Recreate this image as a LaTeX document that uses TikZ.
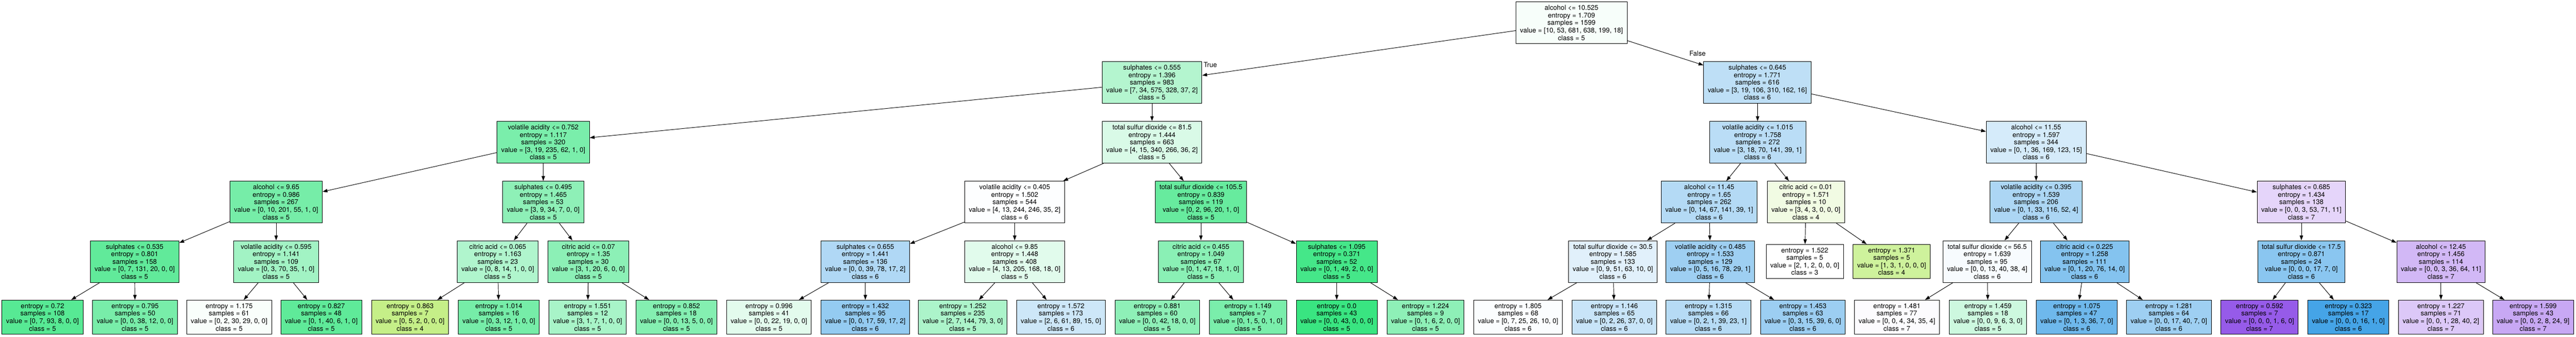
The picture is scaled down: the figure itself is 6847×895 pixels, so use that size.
\documentclass[tikz,border=0pt]{standalone}
\usepackage{fontspec}
\setmainfont{TeX Gyre Heros}
\usetikzlibrary{arrows.meta}

\definecolor{cfour}{RGB}{158,229,57}
\definecolor{cfive}{RGB}{57,229,129}
\definecolor{csix}{RGB}{57,158,229}
\definecolor{cseven}{RGB}{129,57,229}

\tikzset{
  split/.style={draw, line width=1.3pt, rectangle, align=center,
    font=\fontsize{18}{20}\selectfont, inner xsep=11pt, inner ysep=0pt,
    minimum height=111pt},
  leaf/.style={split, minimum height=91pt},
  link/.style={line width=1.3pt, -{Triangle[length=13pt,width=9pt]}}
}

\begin{document}
\begin{tikzpicture}[x=1pt, y=-1pt]
			\fill[white] (0,0) rectangle (6847,895);
			\useasboundingbox (0,0) rectangle (6847,895);
			
			% rank 0 and 1
			\node[split, fill=cfive!4] (root) at (4177,60.5) {alcohol <= 10.525\\entropy = 1.709\\samples = 1599\\value = [10, 53, 681, 638, 199, 18]\\class = 5};
			\node[split, fill=cfive!38] (sa) at (3062,219) {sulphates <= 0.555\\entropy = 1.396\\samples = 983\\value = [7, 34, 575, 328, 37, 2]\\class = 5};
			\node[split, fill=csix!33] (sb) at (4671,219) {sulphates <= 0.645\\entropy = 1.771\\samples = 616\\value = [3, 19, 106, 310, 162, 16]\\class = 6};
			
			% rank 2
			\node[split, fill=cfive!67] (va) at (1444,378) {volatile acidity <= 0.752\\entropy = 1.117\\samples = 320\\value = [3, 19, 235, 62, 1, 0]\\class = 5};
			\node[split, fill=cfive!19] (ta) at (3062,378) {total sulfur dioxide <= 81.5\\entropy = 1.444\\samples = 663\\value = [4, 15, 340, 266, 36, 2]\\class = 5};
			\node[split, fill=csix!35] (vb) at (4672,378) {volatile acidity <= 1.015\\entropy = 1.758\\samples = 272\\value = [3, 18, 70, 141, 39, 1]\\class = 6};
			\node[split, fill=csix!21] (ab) at (5412,378) {alcohol <= 11.55\\entropy = 1.597\\samples = 344\\value = [0, 1, 36, 169, 123, 15]\\class = 6};
			
			% rank 3
			\node[split, fill=cfive!69] (aa) at (734,537) {alcohol <= 9.65\\entropy = 0.986\\samples = 267\\value = [0, 10, 201, 55, 1, 0]\\class = 5};
			\node[split, fill=cfive!57] (sc) at (1444,537) {sulphates <= 0.495\\entropy = 1.465\\samples = 53\\value = [3, 9, 34, 7, 0, 0]\\class = 5};
			\node[split, fill=csix!1] (vc) at (2697,537) {volatile acidity <= 0.405\\entropy = 1.502\\samples = 544\\value = [4, 13, 244, 246, 35, 2]\\class = 6};
			\node[split, fill=cfive!77] (tb) at (3192,537) {total sulfur dioxide <= 105.5\\entropy = 0.839\\samples = 119\\value = [0, 2, 96, 20, 1, 0]\\class = 5};
			\node[split, fill=csix!38] (ac) at (4543,537) {alcohol <= 11.45\\entropy = 1.65\\samples = 262\\value = [0, 14, 67, 141, 39, 1]\\class = 6};
			\node[split, fill=cfour!14] (ca) at (4800,537) {citric acid <= 0.01\\entropy = 1.571\\samples = 10\\value = [3, 4, 3, 0, 0, 0]\\class = 4};
			\node[split, fill=csix!42] (vd) at (5412,537) {volatile acidity <= 0.395\\entropy = 1.539\\samples = 206\\value = [0, 1, 33, 116, 52, 4]\\class = 6};
			\node[split, fill=cseven!21] (sd) at (6117,537) {sulphates <= 0.685\\entropy = 1.434\\samples = 138\\value = [0, 0, 3, 53, 71, 11]\\class = 7};
			
			% rank 4
			\node[split, fill=cfive!80] (se) at (358,695) {sulphates <= 0.535\\entropy = 0.801\\samples = 158\\value = [0, 7, 131, 20, 0, 0]\\class = 5};
			\node[split, fill=cfive!47] (ve) at (734,695) {volatile acidity <= 0.595\\entropy = 1.141\\samples = 109\\value = [0, 3, 70, 35, 1, 0]\\class = 5};
			\node[split, fill=cfive!40] (cb) at (1323,695) {citric acid <= 0.065\\entropy = 1.163\\samples = 23\\value = [0, 8, 14, 1, 0, 0]\\class = 5};
			\node[split, fill=cfive!58] (cc) at (1564,695) {citric acid <= 0.07\\entropy = 1.35\\samples = 30\\value = [3, 1, 20, 6, 0, 0]\\class = 5};
			\node[split, fill=csix!40] (sf) at (2300,695) {sulphates <= 0.655\\entropy = 1.441\\samples = 136\\value = [0, 0, 39, 78, 17, 2]\\class = 6};
			\node[split, fill=cfive!15] (ad) at (2697,695) {alcohol <= 9.85\\entropy = 1.448\\samples = 408\\value = [4, 13, 205, 168, 18, 0]\\class = 5};
			\node[split, fill=cfive!59] (cd) at (3192,695) {citric acid <= 0.455\\entropy = 1.049\\samples = 67\\value = [0, 1, 47, 18, 1, 0]\\class = 5};
			\node[split, fill=cfive!94] (sg) at (3553,695) {sulphates <= 1.095\\entropy = 0.371\\samples = 52\\value = [0, 1, 49, 2, 0, 0]\\class = 5};
			\node[split, fill=csix!15] (tc) at (4287,695) {total sulfur dioxide <= 30.5\\entropy = 1.585\\samples = 133\\value = [0, 9, 51, 63, 10, 0]\\class = 6};
			\node[split, fill=csix!49] (vf) at (4546,695) {volatile acidity <= 0.485\\entropy = 1.533\\samples = 129\\value = [0, 5, 16, 78, 29, 1]\\class = 6};
			\node[leaf, fill=white] (m1) at (4797,695) {entropy = 1.522\\samples = 5\\value = [2, 1, 2, 0, 0, 0]\\class = 3};
			\node[leaf, fill=cfour!50] (m2) at (5028,695) {entropy = 1.371\\samples = 5\\value = [1, 3, 1, 0, 0, 0]\\class = 4};
			\node[split, fill=csix!4] (td) at (5282,695) {total sulfur dioxide <= 56.5\\entropy = 1.639\\samples = 95\\value = [0, 0, 13, 40, 38, 4]\\class = 6};
			\node[split, fill=csix!62] (ce) at (5541,695) {citric acid <= 0.225\\entropy = 1.258\\samples = 111\\value = [0, 1, 20, 76, 14, 0]\\class = 6};
			\node[split, fill=csix!59] (te) at (6117,695) {total sulfur dioxide <= 17.5\\entropy = 0.871\\samples = 24\\value = [0, 0, 0, 17, 7, 0]\\class = 6};
			\node[split, fill=cseven!36] (ae) at (6488,695) {alcohol <= 12.45\\entropy = 1.456\\samples = 114\\value = [0, 0, 3, 36, 64, 11]\\class = 7};
			
			% rank 5, leaves
			\node[leaf, fill=cfive!85] (l1) at (113,843) {entropy = 0.72\\samples = 108\\value = [0, 7, 93, 8, 0, 0]\\class = 5};
			\node[leaf, fill=cfive!68] (l2) at (359,843) {entropy = 0.795\\samples = 50\\value = [0, 0, 38, 12, 0, 0]\\class = 5};
			\node[leaf, fill=cfive!3] (l3) at (609,843) {entropy = 1.175\\samples = 61\\value = [0, 2, 30, 29, 0, 0]\\class = 5};
			\node[leaf, fill=cfive!81] (l4) at (854,843) {entropy = 0.827\\samples = 48\\value = [0, 1, 40, 6, 1, 0]\\class = 5};
			\node[leaf, fill=cfour!60] (l5) at (1090,843) {entropy = 0.863\\samples = 7\\value = [0, 5, 2, 0, 0, 0]\\class = 4};
			\node[leaf, fill=cfive!69] (l6) at (1326,843) {entropy = 1.014\\samples = 16\\value = [0, 3, 12, 1, 0, 0]\\class = 5};
			\node[leaf, fill=cfive!44] (l7) at (1562,843) {entropy = 1.551\\samples = 12\\value = [3, 1, 7, 1, 0, 0]\\class = 5};
			\node[leaf, fill=cfive!62] (l8) at (1798,843) {entropy = 0.852\\samples = 18\\value = [0, 0, 13, 5, 0, 0]\\class = 5};
			\node[leaf, fill=cfive!14] (l9) at (2044,843) {entropy = 0.996\\samples = 41\\value = [0, 0, 22, 19, 0, 0]\\class = 5};
			\node[leaf, fill=csix!54] (l10) at (2300,843) {entropy = 1.432\\samples = 95\\value = [0, 0, 17, 59, 17, 2]\\class = 6};
			\node[leaf, fill=cfive!42] (l11) at (2559,843) {entropy = 1.252\\samples = 235\\value = [2, 7, 144, 79, 3, 0]\\class = 5};
			\node[leaf, fill=csix!25] (l12) at (2820,843) {entropy = 1.572\\samples = 173\\value = [2, 6, 61, 89, 15, 0]\\class = 6};
			\node[leaf, fill=cfive!57] (l13) at (3076,843) {entropy = 0.881\\samples = 60\\value = [0, 0, 42, 18, 0, 0]\\class = 5};
			\node[leaf, fill=cfive!67] (l14) at (3317,843) {entropy = 1.149\\samples = 7\\value = [0, 1, 5, 0, 1, 0]\\class = 5};
			\node[leaf, fill=cfive] (l15) at (3553,843) {entropy = 0.0\\samples = 43\\value = [0, 0, 43, 0, 0, 0]\\class = 5};
			\node[leaf, fill=cfive!57] (l16) at (3789,843) {entropy = 1.224\\samples = 9\\value = [0, 1, 6, 2, 0, 0]\\class = 5};
			\node[leaf, fill=csix!2] (l17) at (4035,843) {entropy = 1.805\\samples = 68\\value = [0, 7, 25, 26, 10, 0]\\class = 6};
			\node[leaf, fill=csix!28] (l18) at (4291,843) {entropy = 1.146\\samples = 65\\value = [0, 2, 26, 37, 0, 0]\\class = 6};
			\node[leaf, fill=csix!37] (l19) at (4541,843) {entropy = 1.315\\samples = 66\\value = [0, 2, 1, 39, 23, 1]\\class = 6};
			\node[leaf, fill=csix!50] (l20) at (4792,843) {entropy = 1.453\\samples = 63\\value = [0, 3, 15, 39, 6, 0]\\class = 6};
			\node[leaf, fill=cseven!2] (l21) at (5042,843) {entropy = 1.481\\samples = 77\\value = [0, 0, 4, 34, 35, 4]\\class = 7};
			\node[leaf, fill=cfive!25] (l22) at (5284,843) {entropy = 1.459\\samples = 18\\value = [0, 0, 9, 6, 3, 0]\\class = 5};
			\node[leaf, fill=csix!73] (l23) at (5520,843) {entropy = 1.075\\samples = 47\\value = [0, 1, 3, 36, 7, 0]\\class = 6};
			\node[leaf, fill=csix!49] (l24) at (5765,843) {entropy = 1.281\\samples = 64\\value = [0, 0, 17, 40, 7, 0]\\class = 6};
			\node[leaf, fill=cseven!83] (l25) at (6006,843) {entropy = 0.592\\samples = 7\\value = [0, 0, 0, 1, 6, 0]\\class = 7};
			\node[leaf, fill=csix!94] (l26) at (6242,843) {entropy = 0.323\\samples = 17\\value = [0, 0, 0, 16, 1, 0]\\class = 6};
			\node[leaf, fill=cseven!28] (l27) at (6488,843) {entropy = 1.227\\samples = 71\\value = [0, 0, 1, 28, 40, 2]\\class = 7};
			\node[leaf, fill=cseven!44] (l28) at (6733,843) {entropy = 1.599\\samples = 43\\value = [0, 0, 2, 8, 24, 9]\\class = 7};
			
			% connectors
			\draw[link] (root) -- (sa);
			\draw[link] (root) -- (sb);
			\draw[link] (sa) -- (va);
			\draw[link] (sa) -- (ta);
			\draw[link] (sb) -- (vb);
			\draw[link] (sb) -- (ab);
			\draw[link] (va) -- (aa);
			\draw[link] (va) -- (sc);
			\draw[link] (ta) -- (vc);
			\draw[link] (ta) -- (tb);
			\draw[link] (vb) -- (ac);
			\draw[link] (vb) -- (ca);
			\draw[link] (ab) -- (vd);
			\draw[link] (ab) -- (sd);
			\draw[link] (aa) -- (se);
			\draw[link] (aa) -- (ve);
			\draw[link] (sc) -- (cb);
			\draw[link] (sc) -- (cc);
			\draw[link] (vc) -- (sf);
			\draw[link] (vc) -- (ad);
			\draw[link] (tb) -- (cd);
			\draw[link] (tb) -- (sg);
			\draw[link] (ac) -- (tc);
			\draw[link] (ac) -- (vf);
			\draw[link] (ca) -- (m1);
			\draw[link] (ca) -- (m2);
			\draw[link] (vd) -- (td);
			\draw[link] (vd) -- (ce);
			\draw[link] (sd) -- (te);
			\draw[link] (sd) -- (ae);
			\draw[link] (se) -- (l1);
			\draw[link] (se) -- (l2);
			\draw[link] (ve) -- (l3);
			\draw[link] (ve) -- (l4);
			\draw[link] (cb) -- (l5);
			\draw[link] (cb) -- (l6);
			\draw[link] (cc) -- (l7);
			\draw[link] (cc) -- (l8);
			\draw[link] (sf) -- (l9);
			\draw[link] (sf) -- (l10);
			\draw[link] (ad) -- (l11);
			\draw[link] (ad) -- (l12);
			\draw[link] (cd) -- (l13);
			\draw[link] (cd) -- (l14);
			\draw[link] (sg) -- (l15);
			\draw[link] (sg) -- (l16);
			\draw[link] (tc) -- (l17);
			\draw[link] (tc) -- (l18);
			\draw[link] (vf) -- (l19);
			\draw[link] (vf) -- (l20);
			\draw[link] (td) -- (l21);
			\draw[link] (td) -- (l22);
			\draw[link] (ce) -- (l23);
			\draw[link] (ce) -- (l24);
			\draw[link] (te) -- (l25);
			\draw[link] (te) -- (l26);
			\draw[link] (ae) -- (l27);
			\draw[link] (ae) -- (l28);
			
			\node[font=\fontsize{18}{20}\selectfont] (true) at (3217,172) {True};
			\node[font=\fontsize{18}{20}\selectfont] (false) at (4512,142) {False};
		\end{tikzpicture}
\end{document}
